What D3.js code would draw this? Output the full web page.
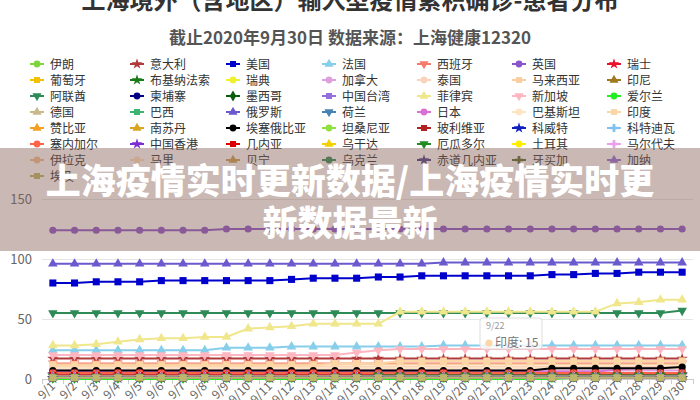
<!DOCTYPE html>
<html><head><meta charset="utf-8">
<script src="https://cdn.jsdelivr.net/npm/d3@7"></script>
<style>
html,body{margin:0;padding:0;background:#fff;}
svg{display:block;font-family:"Noto Sans CJK SC","Noto Sans",sans-serif;}
</style></head>
<body><svg id="c" width="700" height="400"></svg>
<script>
// ---------- data ----------
const dates = ["9/1","9/2","9/3","9/4","9/5","9/6","9/7","9/8","9/9","9/10","9/11","9/12","9/13","9/14","9/15","9/16","9/17","9/18","9/19","9/20","9/21","9/22","9/23","9/24","9/25","9/26","9/27","9/28","9/29","9/30"];
const yTicks = [0, 50, 100, 150];

const iran        = [3,3,3,3,3,3,3,3,3,3,3,3,3,3,3,3,3,3,3,3,3,3,3,3,3,3,3,3,3,3];
const italy       = [17,17,17,17,17,17,17,17,17,17,17,17,17,17,17,17,17,17,17,17,17,17,17,17,17,17,17,17,17,17];
const usa         = [80,80,81,81,81,82,82,82,82,82,82,83,84,84,84,85,85,86,86,86,86,86,86,87,87,88,88,89,89,89];
const france      = [24,24,24,24,24,24,24,24,26,26,26,27,27,27,27,27,27,27,28,28,28,28,28,28,28,28,28,28,28,28];
const spain       = [13,13,13,13,13,13,13,13,13,13,13,13,13,13,13,13,13,13,13,13,13,13,13,13,13,13,13,13,13,13];
const uk          = [124,124,124,124,124,124,124,124,125,125,125,125,125,125,125,125,125,125,125,125,125,125,125,125,125,125,125,125,125,125];
const swiss       = [4,4,4,4,4,4,4,4,4,4,4,4,4,4,4,4,4,4,4,4,4,4,4,4,4,4,4,4,4,4];
const portugal    = [3,3,3,3,3,3,3,3,3,3,3,3,3,3,3,3,3,3,3,3,3,3,3,3,3,3,3,3,3,3];
const burkina     = [1,1,1,1,1,1,1,1,1,1,1,1,1,1,1,1,1,1,1,1,1,1,1,1,1,1,1,1,1,1];
const sweden      = [2,2,2,2,2,2,2,2,2,2,2,2,2,2,2,2,2,2,2,2,2,2,2,2,2,2,2,2,2,2];
const canada      = [7,7,7,7,7,7,7,7,7,7,7,7,7,7,7,7,7,7,7,7,7,7,7,7,7,7,7,7,7,7];
const thailand    = [10,10,10,10,10,10,10,10,10,10,10,10,10,10,10,10,10,10,10,10,10,10,10,10,10,10,10,10,10,10];
const malaysia    = [12,12,12,12,12,12,12,12,12,12,12,12,12,12,12,12,12,12,12,12,12,12,12,12,12,12,12,12,12,12];
const indonesia   = [2,2,2,2,2,2,2,2,2,2,2,2,2,2,2,2,2,2,2,2,2,2,2,2,2,2,2,2,2,2];
const uae         = [55,55,55,55,55,55,55,55,55,55,55,55,55,55,55,55,55,55,55,55,55,55,55,55,55,55,55,55,55,57];
const cambodia    = [2,2,2,2,2,2,2,2,2,2,2,2,2,2,2,2,2,2,2,2,2,2,2,2,2,2,2,2,2,2];
const mexico      = [1,1,1,1,1,1,1,1,2,2,2,2,2,2,2,2,2,2,2,2,2,2,2,2,2,2,2,2,2,2];
const taiwan      = [2,2,2,2,2,2,2,2,2,2,2,2,2,2,2,2,2,2,2,2,2,2,2,2,2,2,2,2,2,2];
const philippines = [28,28,29,31,33,34,34,35,35,42,43,44,46,46,46,46,56,56,56,56,56,56,56,56,56,56,63,64,66,66];
const singapore   = [20,20,20,20,20,20,20,20,20,20,20,20,20,20,22,24,25,25,25,25,25,25,25,25,25,25,25,25,25,25];
const ireland     = [0,0,0,0,0,0,0,0,0,0,0,0,0,0,0,0,0,0,0,0,0,0,0,0,1,1,1,1,1,1];
const germany     = [4,4,4,4,4,4,4,4,4,4,4,4,4,4,4,4,4,4,4,4,4,4,4,4,4,4,4,4,4,4];
const brazil      = [1,1,1,1,1,1,1,1,1,2,2,2,2,2,2,2,2,2,2,2,2,2,2,2,2,2,2,2,2,2];
const russia      = [96,96,96,96,96,96,96,96,96,96,96,96,96,96,96,96,96,96,97,97,97,97,97,97,97,97,97,97,97,97];
const netherlands = [3,3,3,3,3,3,3,3,3,3,3,3,3,3,3,3,3,3,3,3,3,3,3,3,3,3,3,3,3,3];
const japan       = [6,6,6,6,6,6,6,6,6,6,6,6,6,6,6,6,6,6,6,6,6,6,6,6,6,6,8,9,9,9];
const pakistan    = [9,9,9,9,9,9,9,9,9,9,9,9,9,9,9,9,9,9,9,9,9,9,9,9,9,9,9,9,9,9];
const india       = [11,11,11,11,11,11,11,11,11,11,11,11,11,13,13,13,15,15,15,15,15,15,15,15,15,15,15,15,15,15];
const zambia      = [4,4,4,4,4,4,4,4,4,4,4,4,4,4,4,4,4,4,4,4,4,4,4,4,4,4,4,4,4,4];
const southSudan  = [2,2,2,2,2,2,2,2,2,2,2,2,2,2,2,2,2,2,2,2,2,2,2,2,2,2,2,2,2,2];
const ethiopia    = [7,7,7,7,7,7,7,7,7,7,7,7,7,7,7,7,7,7,7,7,7,7,7,9,9,9,9,9,9,10];
const tanzania    = [1,1,1,1,1,1,1,1,1,1,1,1,1,1,1,1,1,1,1,1,1,1,1,1,1,1,1,1,1,1];
const bolivia     = [5,5,5,5,5,5,5,5,5,5,5,5,5,5,5,5,5,5,5,5,5,5,5,5,5,5,5,5,5,5];
const kuwait      = [1,1,1,1,1,1,1,1,1,1,1,1,1,1,1,1,1,1,1,1,1,1,1,1,1,1,1,1,1,1];
const coteIvoire  = [1,1,1,1,1,1,1,1,1,1,1,1,1,1,1,1,1,1,1,1,1,1,1,1,1,1,1,1,1,1];
const senegal     = [5,5,5,5,5,5,5,5,5,5,5,5,5,5,5,5,5,5,5,5,5,5,5,5,5,5,5,5,5,5];
const hongkong    = [3,3,3,3,3,3,3,3,3,3,3,3,3,3,3,3,3,3,3,3,3,3,3,3,3,3,3,3,3,3];
const guinea      = [3,3,3,3,3,3,3,3,3,3,3,3,3,3,3,3,3,3,3,3,3,3,3,3,3,3,3,3,3,3];
const uganda      = [2,2,2,2,2,2,2,2,2,2,2,2,2,2,2,2,2,2,2,2,2,2,2,2,2,2,2,2,2,2];
const ecuador     = [2,2,2,2,2,2,2,2,2,2,2,2,2,2,2,3,3,3,3,3,3,3,3,3,3,3,3,3,3,3];
const turkey      = [1,1,1,1,1,1,1,1,1,1,1,1,1,1,1,1,1,1,1,1,1,1,1,1,1,1,1,1,1,1];
const maldives    = [2,2,2,2,2,2,2,2,2,2,2,2,2,2,2,2,2,2,2,2,2,2,2,2,2,2,2,2,2,2];
const iraq        = [1,1,1,1,1,1,1,1,1,1,1,1,1,1,1,1,1,1,1,1,1,1,1,1,1,1,1,1,1,1];
const mali        = [1,1,1,1,1,1,1,1,1,1,1,1,1,1,1,1,1,1,1,1,1,1,1,1,1,1,1,1,1,1];
const benin       = [1,1,1,1,1,1,1,1,1,1,1,1,1,1,1,1,1,1,1,1,1,1,1,1,1,1,1,1,1,1];
const ukraine     = [1,1,1,1,1,1,1,1,1,1,1,1,1,1,1,1,1,1,1,1,1,1,1,1,1,1,1,1,1,1];
const eqGuinea    = [1,1,1,1,1,1,1,1,1,1,1,1,1,1,1,1,1,1,1,1,1,1,1,1,1,1,1,1,1,1];
const jamaica     = [1,1,1,1,1,1,1,1,1,1,1,1,1,1,1,1,1,1,1,1,1,1,1,1,1,1,1,1,1,1];
const ghana       = [1,1,1,1,1,1,1,1,1,1,1,1,1,1,1,1,1,1,1,1,1,1,1,1,1,1,1,1,1,1];
const egypt       = [1,1,1,1,1,1,1,1,1,1,1,1,1,1,1,1,1,1,1,1,1,1,1,1,1,1,1,1,1,1];

const names = ["伊朗","意大利","美国","法国","西班牙","英国","瑞士",
  "葡萄牙","布基纳法索","瑞典","加拿大","泰国","马来西亚","印尼",
  "阿联酋","柬埔寨","墨西哥","中国台湾","菲律宾","新加坡","爱尔兰",
  "德国","巴西","俄罗斯","荷兰","日本","巴基斯坦","印度",
  "赞比亚","南苏丹","埃塞俄比亚","坦桑尼亚","玻利维亚","科威特","科特迪瓦",
  "塞内加尔","中国香港","几内亚","乌干达","厄瓜多尔","土耳其","马尔代夫",
  "伊拉克","马里","贝宁","乌克兰","赤道几内亚","牙买加","加纳",
  "埃及"];
const values = [iran,italy,usa,france,spain,uk,swiss,
  portugal,burkina,sweden,canada,thailand,malaysia,indonesia,
  uae,cambodia,mexico,taiwan,philippines,singapore,ireland,
  germany,brazil,russia,netherlands,japan,pakistan,india,
  zambia,southSudan,ethiopia,tanzania,bolivia,kuwait,coteIvoire,
  senegal,hongkong,guinea,uganda,ecuador,turkey,maldives,
  iraq,mali,benin,ukraine,eqGuinea,jamaica,ghana,
  egypt];

// ---------- styles ----------
const colors = ["#7fd63c","#b03a3a","#0000cd","#87ceeb","#f47a6a","#8a55cc","#e8102a",
  "#f5c000","#1a7a1a","#f0f030","#dda0dd","#f8d4bc","#f9cfa0","#a07820",
  "#2e8b57","#000080","#0b5e0b","#9370db","#f0e68c","#ffb6c1","#22ee22",
  "#c8b88a","#3cb371","#6a5acd","#4682b4","#da70d6","#ffe4c4","#fdd6a6",
  "#f4a020","#daa520","#000000","#90e040","#b22222","#1020c0","#7ec0ee",
  "#ff6347","#7b2fd0","#dd0000","#f5d000","#228b22","#ffee00","#e8a0e8",
  "#f0c090","#ffe0c0","#c8a050","#2e8b57","#483d8b","#556b2f","#9370db",
  "#bdb76b"];
const shapes = ["circle","star","square","triangle","down","circle","star",
  "square","star","circle","circle","circle","square","triangle",
  "down","circle","diamond","square","triangle","down","circle",
  "triangle","square","triangle","down","circle","circle","square",
  "triangle","triangle","circle","circle","square","star","cross",
  "circle","star","square","triangle","down","circle","cross",
  "circle","circle","triangle","circle","star","cross","triangle",
  "square"];

const svg = d3.select("#c");
const W = 700, H = 400;
const x = d3.scaleBand().domain(dates).range([42, 693]);
const y = d3.scaleLinear().domain([0, 150]).range([379, 199]);

function symPath(kind, size){
  const map = {circle:d3.symbolCircle, square:d3.symbolSquare, triangle:d3.symbolTriangle,
    down:d3.symbolTriangle, diamond:d3.symbolDiamond, star:d3.symbolStar, cross:d3.symbolCross};
  return d3.symbol().type(map[kind]).size(size)();
}

// title
svg.append("text").attr("x", 350).attr("y", 9).attr("text-anchor","middle")
  .attr("font-size", 24).attr("font-weight", 700).attr("fill", "#333")
  .text("上海境外（含地区）输入型疫情累积确诊-患者分布");
svg.append("text").attr("x", 350).attr("y", 44).attr("text-anchor","middle")
  .attr("font-size", 17).attr("font-weight", 700).attr("fill", "#555")
  .text("截止2020年9月30日 数据来源：上海健康12320");

// legend
const colX = [37, 137, 233, 329, 424, 519, 614];
const lg = svg.append("g");
names.forEach((n, i) => {
  const cx = colX[i % 7], cy = 64 + Math.floor(i / 7) * 16;
  const g = lg.append("g");
  g.append("line").attr("x1", cx - 7).attr("x2", cx + 7).attr("y1", cy).attr("y2", cy)
    .attr("stroke", colors[i]).attr("stroke-width", 2);
  g.append("path").attr("d", symPath(shapes[i], 36))
    .attr("transform", `translate(${cx},${cy})` + (shapes[i] === "down" ? " rotate(180)" : ""))
    .attr("fill", colors[i]);
  g.append("text").attr("x", cx + 13).attr("y", cy + 4.5).attr("font-size", 12)
    .attr("fill", "#333").text(n);
});

// grid
const grid = svg.append("g");
yTicks.forEach(t => {
  grid.append("line").attr("x1", 42).attr("x2", 693).attr("y1", y(t)).attr("y2", y(t))
    .attr("stroke", t === 0 ? "#ccc" : "#e6e6e6").attr("stroke-width", 1).attr("shape-rendering","crispEdges");
  grid.append("text").attr("x", 32).attr("y", y(t) + 4.5).attr("text-anchor", "end")
    .attr("font-size", 13).attr("fill", "#666").text(t);
});
// x ticks
const xa = svg.append("g");
dates.forEach((d, i) => {
  xa.append("line").attr("x1", x(d)).attr("x2", x(d)).attr("y1", 379).attr("y2", 384)
    .attr("stroke", "#ccc").attr("shape-rendering","crispEdges");
  const cx = x(d) + x.bandwidth() / 2;
  xa.append("text").attr("transform", `translate(${cx + 3},${387}) rotate(-45)`)
    .attr("text-anchor", "end").attr("font-size", 12).attr("fill", "#666").text(d);
});
xa.append("line").attr("x1", 693).attr("x2", 693).attr("y1", 379).attr("y2", 384)
  .attr("stroke", "#ccc").attr("shape-rendering","crispEdges");

// series
const line = d3.line().x((v, i) => x(dates[i]) + x.bandwidth() / 2).y(v => y(v));
const plot = svg.append("g");
values.forEach((vals, si) => {
  const g = plot.append("g");
  g.append("path").attr("d", line(vals)).attr("fill", "none")
    .attr("stroke", colors[si]).attr("stroke-width", 2);
  const sz = shapes[si] === "square" ? 50 : 40;
  vals.forEach((v, i) => {
    g.append("path").attr("d", symPath(shapes[si], sz))
      .attr("transform", `translate(${x(dates[i]) + x.bandwidth() / 2},${y(v)})` + (shapes[si] === "down" ? " rotate(180)" : ""))
      .attr("fill", colors[si]);
  });
});

// tooltip
const tip = svg.append("g");
tip.append("rect").attr("x", 480).attr("y", 318).attr("width", 62).attr("height", 31).attr("rx", 3)
  .attr("fill", "rgba(255,255,255,0.8)").attr("stroke", "#ddd");
tip.append("text").attr("x", 486).attr("y", 329).attr("font-size", 9).attr("fill", "#999").text("9/22");
tip.append("circle").attr("cx", 489).attr("cy", 343).attr("r", 3.5).attr("fill", colors[27]);
tip.append("text").attr("x", 495).attr("y", 347).attr("font-size", 12).attr("fill", "#777").text("印度: 15");

// banner overlay
svg.append("rect").attr("x", 0).attr("y", 148).attr("width", W).attr("height", 103)
  .attr("fill", "rgb(135,97,86)").attr("fill-opacity", 0.45);
svg.append("text").attr("x", 350).attr("y", 194).attr("text-anchor","middle")
  .attr("font-size", 35).attr("font-weight", 900).attr("fill", "#fff")
  .text("上海疫情实时更新数据/上海疫情实时更");
svg.append("text").attr("x", 350).attr("y", 236).attr("text-anchor","middle")
  .attr("font-size", 35).attr("font-weight", 900).attr("fill", "#fff")
  .text("新数据最新");
</script></body></html>
